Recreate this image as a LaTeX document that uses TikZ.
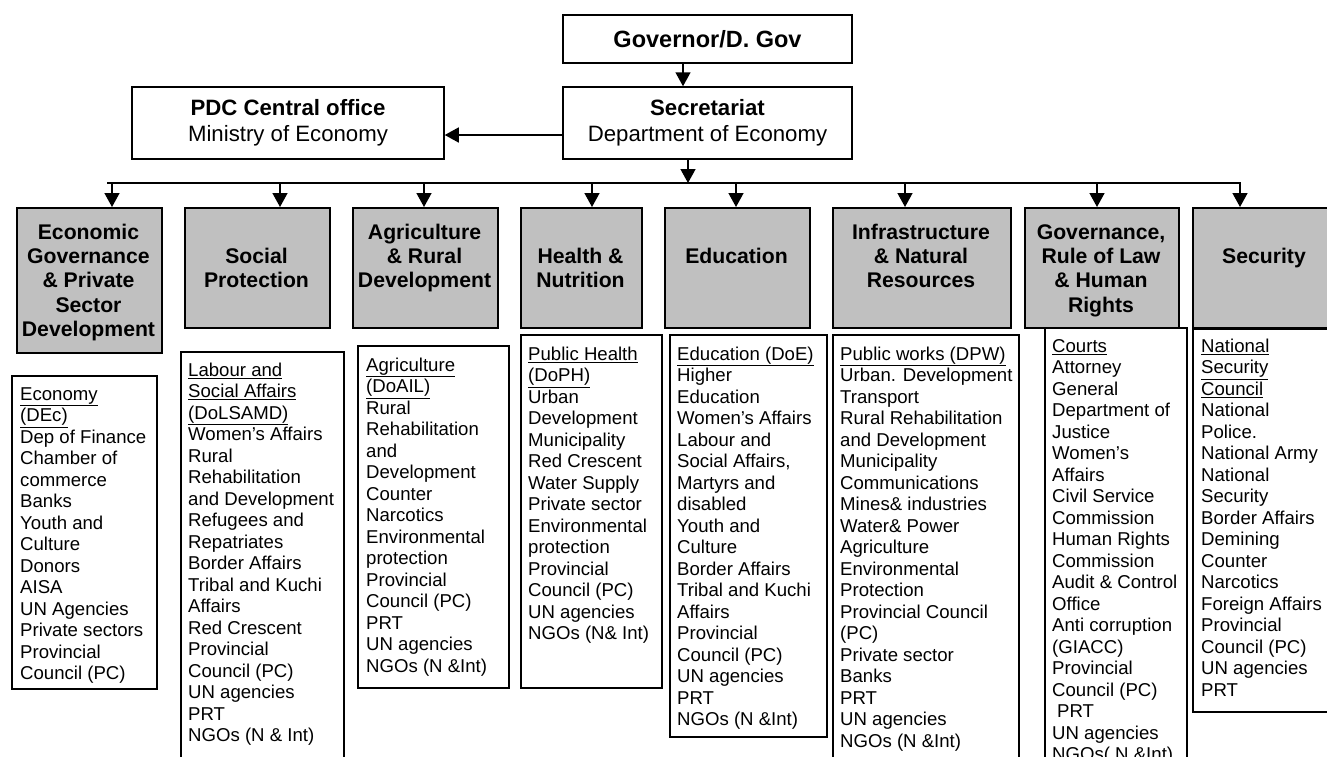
\documentclass[tikz,border=0pt]{standalone}
\usepackage{fontspec}
\setmainfont{Liberation Sans}
\usetikzlibrary{arrows.meta}
\definecolor{headgray}{HTML}{C0C0C0}
\newcommand\mylstrut{\rule{0pt}{14pt}}
\newcommand\myhstrut{\rule{0pt}{16pt}}
\begin{document}
\begin{tikzpicture}[x=1pt,y=-1pt,
  boxline/.style={draw, line width=1.5pt, inner sep=0pt},
  headbox/.style={boxline, fill=headgray, anchor=north west, minimum height=120pt},
  listbox/.style={boxline, anchor=north west},
  listtxt/.style={anchor=north west, inner sep=0pt, align=left, font=\fontsize{18.6}{21.5}\selectfont},
  headtxt/.style={anchor=north, inner sep=0pt, align=center, font=\bfseries\fontsize{21.2}{24.2}\selectfont},
  topbox/.style={boxline, align=center, font=\fontsize{22.2}{25.5}\selectfont},
  arr/.style={line width=1.5pt, -{Triangle[length=14pt,width=15pt]}}
]
\useasboundingbox (0,0) rectangle (1327,756);

% top boxes
\node[topbox, minimum width=289pt, minimum height=48pt] (gov) at (707.5,39) {\fontsize{23.5}{26}\selectfont\textbf{Governor/D. Gov}};
\node[topbox, minimum width=289pt, minimum height=72pt] (sec) at (707.5,123) {\textbf{Secretariat}\\Department of Economy};
\node[topbox, minimum width=312pt, minimum height=72pt] (pdc) at (288,123) {\textbf{PDC Central office}\\Ministry of Economy};

\draw[arr] ([xshift=-24.5pt]gov.south) -- ([xshift=-24.5pt]sec.north);
\draw[arr] ([yshift=-12pt]sec.west) -- ([yshift=-12pt]pdc.east);

% bus
\coordinate (busL) at (107,183);
\coordinate (busR) at (1241,183);
\coordinate (busS) at (688,183);
\draw[line width=1.5pt] (busL) -- (busR);
\draw[arr] (sec.south -| busS) -- (busS);

% heading boxes
\node[headbox, minimum width=145pt, minimum height=145pt] (econH) at (16,207) {};
\node[headbox, minimum width=145pt] (socH) at (184,207) {};
\node[headbox, minimum width=145pt] (agrH) at (352,207) {};
\node[headbox, minimum width=121pt] (heaH) at (520,207) {};
\node[headbox, minimum width=145pt] (eduH) at (664,207) {};
\node[headbox, minimum width=178pt] (infH) at (832,207) {};
\node[headbox, minimum width=154pt] (govH) at (1024,207) {};
\node[headbox, minimum width=145pt] (secH) at (1192,207) {};

\node[headtxt] (econT) at (88.5,223.3) {\myhstrut Economic\\Governance\\\& Private\\Sector\\Development};
\node[headtxt] (socT) at (256.5,247.5) {\myhstrut Social\\Protection};
\node[headtxt] (agrT) at (424.5,223.3) {\myhstrut Agriculture\\\& Rural\\Development};
\node[headtxt] (heaT) at (580.5,247.5) {\myhstrut Health \&\\Nutrition};
\node[headtxt] (eduT) at (736.5,247.5) {\myhstrut Education};
\node[headtxt] (infT) at (921,223.3) {\myhstrut Infrastructure\\\& Natural\\Resources};
\node[headtxt] (govT) at (1101,223.3) {\myhstrut Governance,\\Rule of Law\\\& Human\\Rights};
\node[headtxt] (secT) at (1264,247.5) {\myhstrut Security};

% drops
\foreach \x/\n in {112/econH,280/socH,424/agrH,592/heaH,736/eduH,905/infH,1097/govH,1240/secH}{
  \coordinate (d\n) at (\x,183);
  \draw[arr] (d\n) -- (d\n |- \n.north);
}

% list boxes
\node[listbox, minimum width=145pt, minimum height=313pt] (econL) at (11,375) {};
\node[listbox, minimum width=163pt, minimum height=420pt] (socL) at (180,351) {};
\node[listbox, minimum width=151pt, minimum height=342pt] (agrL) at (357,345) {};
\node[listbox, minimum width=141pt, minimum height=353pt] (heaL) at (520,334) {};
\node[listbox, minimum width=157pt, minimum height=402pt] (eduL) at (669,334) {};
\node[listbox, minimum width=186pt, minimum height=440pt] (infL) at (832,334) {};
\node[listbox, minimum width=142pt, minimum height=440pt] (govL) at (1044,327) {};
\node[listbox, minimum width=150pt, minimum height=383pt] (secL) at (1192,328) {};

\node[listtxt] (econX) at (20,386) {\mylstrut\underline{Economy}\\\underline{(DEc)}\\Dep of Finance\\Chamber of\\commerce\\Banks\\Youth and\\Culture\\Donors\\AISA\\UN Agencies\\Private sectors\\Provincial\\Council (PC)};
\node[listtxt] (socX) at (188,362) {\mylstrut\underline{Labour and}\\\underline{Social Affairs}\\\underline{(DoLSAMD)}\\Women’s Affairs\\Rural\\Rehabilitation\\and Development\\Refugees and\\Repatriates\\Border Affairs\\Tribal and Kuchi\\Affairs\\Red Crescent\\Provincial\\Council (PC)\\UN agencies\\PRT\\NGOs (N \& Int)};
\node[listtxt] (agrX) at (366,357) {\mylstrut\underline{Agriculture}\\\underline{(DoAIL)}\\Rural\\Rehabilitation\\and\\Development\\Counter\\Narcotics\\Environmental\\protection\\Provincial\\Council (PC)\\PRT\\UN agencies\\NGOs (N \&Int)};
\node[listtxt] (heaX) at (528,346) {\mylstrut\underline{Public Health}\\\underline{(DoPH)}\\Urban\\Development\\Municipality\\Red Crescent\\Water Supply\\Private sector\\Environmental\\protection\\Provincial\\Council (PC)\\UN agencies\\NGOs (N\& Int)};
\node[listtxt] (eduX) at (677,346) {\mylstrut\underline{Education (DoE)}\\Higher\\Education\\Women’s Affairs\\Labour and\\Social Affairs,\\Martyrs and\\disabled\\Youth and\\Culture\\Border Affairs\\Tribal and Kuchi\\Affairs\\Provincial\\Council (PC)\\UN agencies\\PRT\\NGOs (N \&Int)};
\node[listtxt] (infX) at (840,346) {\mylstrut\underline{Public works (DPW)}\\Urban. Development\\Transport\\Rural Rehabilitation\\and Development\\Municipality\\Communications\\Mines\& industries\\Water\& Power\\Agriculture\\Environmental\\Protection\\Provincial Council\\(PC)\\Private sector\\Banks\\PRT\\UN agencies\\NGOs (N \&Int)};
\node[listtxt] (govX) at (1052,338) {\mylstrut\underline{Courts}\\Attorney\\General\\Department of\\Justice\\Women’s\\Affairs\\Civil Service\\Commission\\Human Rights\\Commission\\Audit \& Control\\Office\\Anti corruption\\(GIACC)\\Provincial\\Council (PC)\\\hspace*{5pt}PRT\\UN agencies\\NGOs( N \&Int)};
\node[listtxt] (secX) at (1201,338) {\mylstrut\underline{National}\\\underline{Security}\\\underline{Council}\\National\\Police.\\National Army\\National\\Security\\Border Affairs\\Demining\\Counter\\Narcotics\\Foreign Affairs\\Provincial\\Council (PC)\\UN agencies\\PRT};
\end{tikzpicture}
\end{document}
